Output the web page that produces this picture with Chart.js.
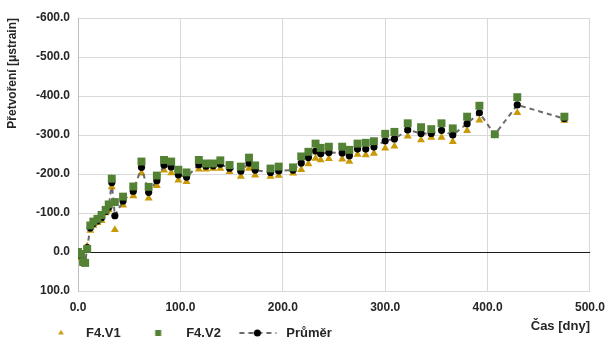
<!DOCTYPE html>
<html>
<head>
<meta charset="utf-8">
<script src="https://cdn.jsdelivr.net/npm/chart.js@4"></script>
<style>
  html, body { margin: 0; padding: 0; background: #ffffff; }
  #wrap { width: 614px; height: 341px; }
</style>
</head>
<body>
<div id="wrap"><canvas id="chart" width="614" height="341"></canvas></div>
<script>
// Measurement days
const days = [0, 3, 5, 7, 9, 12, 15, 19, 23, 27, 30, 33, 36, 44, 54, 62, 69, 77, 84, 91,
  98, 106, 118, 125, 132, 139, 148, 159, 167, 173, 188, 196, 210, 218, 225, 232, 237, 245,
  258, 265, 273, 281, 289, 300, 309, 322, 335, 345, 355, 366, 380, 392, 407, 429, 475];

// Strain of specimen F4.V1 [μstrain]
const f4v1 = [0, 15, 30, 25, -15, -55, -68, -75, -80, -100, -108, -167, -57, -120, -144, -202,
  -138, -170, -210, -203, -184, -180, -212, -212, -214, -214, -206, -194, -214, -197, -194,
  -196, -202, -211, -226, -240, -236, -239, -238, -232, -250, -249, -253, -266, -271, -297,
  -287, -294, -294, -283, -311, -338, -300, -357, -337];

// Strain of specimen F4.V2 [μstrain]
const f4v2 = [0, 5, 25, 28, -8, -68, -78, -85, -95, -108, -122, -188, -128, -142, -168, -232,
  -167, -196, -236, -232, -211, -204, -236, -227, -227, -235, -223, -219, -242, -222, -214,
  -219, -217, -245, -257, -278, -267, -270, -270, -262, -278, -280, -284, -303, -308, -330,
  -320, -315, -330, -317, -347, -375, -302, -397, -347];

// Mean of both specimens [μstrain]
const prumer = [0, 10, 27, 27, -11, -62, -73, -80, -88, -104, -115, -178, -93, -131, -156, -217,
  -153, -183, -223, -218, -198, -192, -224, -220, -221, -225, -215, -207, -228, -210, -204,
  -208, -210, -228, -242, -259, -252, -255, -254, -247, -264, -264, -269, -285, -290, -313,
  -304, -304, -312, -300, -329, -357, -301, -377, -342];

const xTicks = [0, 100, 200, 300, 400, 500];
const yTicks = [-600, -500, -400, -300, -200, -100, 0, 100];

const seriesNames = ['F4.V1', 'F4.V2', 'Průměr'];
const xTitle = 'Čas [dny]';
const yTitle = 'Přetvoření [μstrain]';

const FONT = '"Liberation Sans", Arial, sans-serif';
const TEXT = '#262626';
const GOLD = '#C99A06';
const GREEN = '#548235';
const LINE = '#6b6b6b';

const toPoints = (vals) => days.map((d, i) => ({ x: d, y: vals[i] }));

// Small marker images for the legend
function legendMarker(draw) {
  const c = document.createElement('canvas');
  c.width = 51; c.height = 14;
  const g = c.getContext('2d');
  draw(g);
  return c;
}
const mkTri = legendMarker(g => {
  const cx = 25.5 + 7, cy = 7, r = 3.2;
  g.fillStyle = GOLD;
  g.beginPath();
  g.moveTo(cx, cy - r);
  g.lineTo(cx + r * 0.866, cy + r * 0.5);
  g.lineTo(cx - r * 0.866, cy + r * 0.5);
  g.closePath();
  g.fill();
});
const mkSq = legendMarker(g => {
  const cx = 25.5 + 4, cy = 7;
  g.fillStyle = GREEN;
  g.fillRect(cx - 3, cy - 3, 6, 6);
});
const mkAvg = legendMarker(g => {
  const cy = 7;
  g.strokeStyle = LINE;
  g.lineWidth = 2;
  g.setLineDash([5, 4]);
  g.beginPath();
  g.moveTo(25.5 - 15, cy);
  g.lineTo(25.5 + 22, cy);
  g.stroke();
  g.fillStyle = '#000';
  g.beginPath();
  g.arc(25.5 + 3, cy, 3.5, 0, Math.PI * 2);
  g.fill();
});
const legendMarkers = [mkTri, mkSq, mkAvg];

// Axis titles placed at the top of the value axis and right end of the time axis
const axisTitles = {
  id: 'axisTitles',
  afterDraw(chart) {
    const { ctx, chartArea } = chart;
    ctx.save();
    ctx.font = 'bold 12px ' + FONT;
    ctx.fillStyle = TEXT;
    ctx.textBaseline = 'middle';
    ctx.save();
    ctx.translate(13, chartArea.top);
    ctx.rotate(-Math.PI / 2);
    ctx.textAlign = 'right';
    ctx.fillText(yTitle, 0, 0);
    ctx.restore();
    ctx.font = 'bold 13px ' + FONT;
    ctx.textAlign = 'right';
    ctx.fillText(xTitle, chartArea.right, 326);
    ctx.restore();
  }
};

new Chart(document.getElementById('chart'), {
  type: 'scatter',
  data: {
    datasets: [
      {
        label: seriesNames[0],
        data: toPoints(f4v1),
        pointStyle: 'triangle',
        pointRadius: 4.6,
        backgroundColor: GOLD,
        borderColor: GOLD,
        borderWidth: 0,
        showLine: false,
        order: 3
      },
      {
        label: seriesNames[1],
        data: toPoints(f4v2),
        pointStyle: 'rect',
        pointRadius: 5.6,
        backgroundColor: GREEN,
        borderColor: GREEN,
        borderWidth: 0,
        showLine: false,
        order: 1
      },
      {
        label: seriesNames[2],
        data: toPoints(prumer),
        pointStyle: 'circle',
        pointRadius: 3.6,
        backgroundColor: '#000000',
        borderColor: LINE,
        pointBorderColor: '#000000',
        borderWidth: 2,
        pointBorderWidth: 0,
        borderDash: [5, 4],
        showLine: true,
        tension: 0,
        order: 2
      }
    ]
  },
  options: {
    responsive: false,
    animation: false,
    layout: { padding: { left: 20.5, right: 16, top: 18, bottom: 0 } },
    plugins: {
      tooltip: { enabled: false },
      legend: {
        position: 'bottom',
        align: 'start',
        maxHeight: 22.5,
        labels: {
          usePointStyle: true,
          pointStyleWidth: 51,
          padding: 8,
          color: TEXT,
          font: { family: FONT, size: 13, weight: 'bold' },
          sort: (a, b) => a.datasetIndex - b.datasetIndex,
          generateLabels(chart) {
            const items = Chart.defaults.plugins.legend.labels.generateLabels(chart);
            items.forEach(it => { it.pointStyle = legendMarkers[it.datasetIndex]; it.lineWidth = 0; });
            return items;
          }
        }
      }
    },
    scales: {
      x: {
        type: 'linear',
        min: 0,
        max: 500,
        afterBuildTicks: (s) => { s.ticks = xTicks.map(v => ({ value: v })); },
        afterFit: (s) => { s.height = 27.5; },
        ticks: {
          padding: 9,
          color: TEXT,
          font: { family: FONT, size: 12, weight: 'bold' },
          callback: (v) => Number(v).toFixed(1),
          maxRotation: 0
        },
        grid: { color: '#d9d9d9', lineWidth: 1, drawTicks: false },
        border: { display: true, color: '#d9d9d9' }
      },
      y: {
        type: 'linear',
        reverse: true,
        min: -600,
        max: 100,
        afterBuildTicks: (s) => { s.ticks = yTicks.map(v => ({ value: v })); },
        afterFit: (s) => { s.width = 57.5; },
        ticks: {
          padding: 8,
          color: TEXT,
          font: { family: FONT, size: 12, weight: 'bold' },
          callback: (v) => Number(v).toFixed(1)
        },
        grid: {
          color: (ctx) => (ctx.tick && ctx.tick.value === 0 ? '#1a1a1a' : '#d9d9d9'),
          lineWidth: 1,
          drawTicks: false
        },
        border: { display: true, color: '#bfbfbf' }
      }
    }
  },
  plugins: [axisTitles]
});
</script>
</body>
</html>
